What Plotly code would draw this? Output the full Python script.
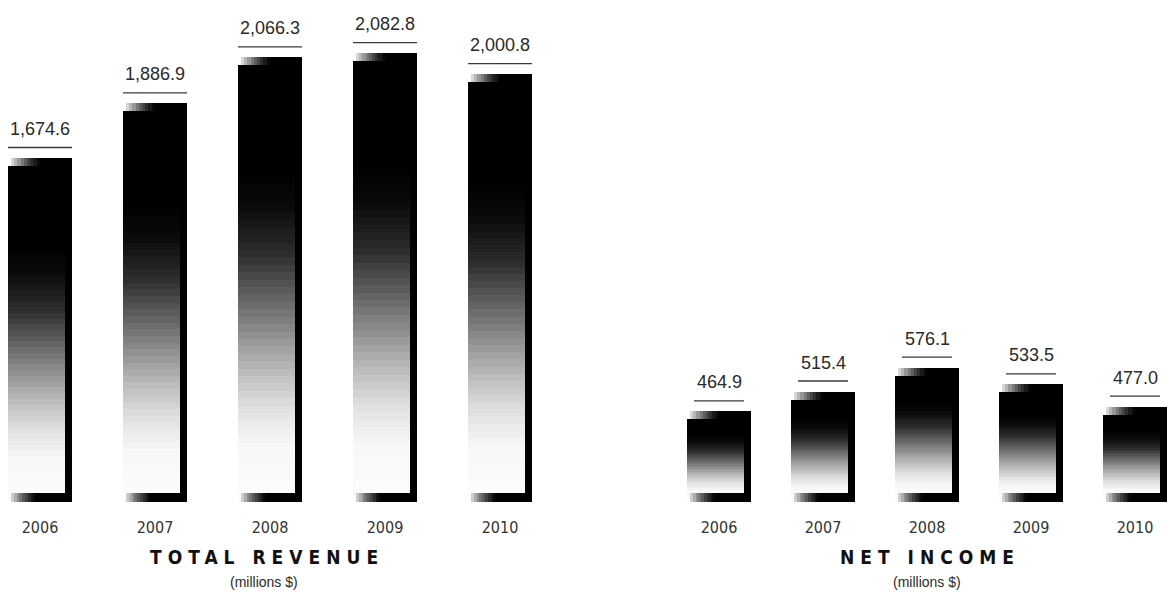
import plotly.graph_objects as go

# ---------------- data ----------------
years = ["2006", "2007", "2008", "2009", "2010"]
revenue = [1674.6, 1886.9, 2066.3, 2082.8, 2000.8]
net_income = [464.9, 515.4, 576.1, 533.5, 477.0]
titles = ["TOTAL REVENUE", "NET INCOME"]
subtitle = "(millions $)"

# ---------------- layout constants ----------------
W, H = 1167, 604
BOTTOM_PX = 502          # pixel row of the bar baseline
PLOT_H = BOTTOM_PX       # plot area spans from top of page to baseline

panels = [
    dict(vals=revenue, xa="x", ya="y", xdom=(0, 575), c0=40.0, step=115,
         vmin=336.0, ppu=0.257, title=titles[0], tcx=264, line_px=64),
    dict(vals=net_income, xa="x2", ya="y2", xdom=(600, 1167), c0=719, step=104,
         vmin=233.5, ppu=0.392, title=titles[1], tcx=927, line_px=50),
]

BAR_PX = 64
STRIP_PX = 7
BOTTOM_STRIP_PX = 9
CAP_PX = 8
INSET_PX = 3
N_SLICES = 60


def gray_at(f):
    pts = [(0.0, 253), (0.13, 248), (0.22, 222), (0.33, 170), (0.45, 105),
           (0.56, 45), (0.66, 12), (0.75, 0), (1.0, 0)]
    for (a, ga), (b, gb) in zip(pts[:-1], pts[1:]):
        if a <= f <= b:
            t = (f - a) / (b - a)
            g = ga + (gb - ga) * t
            return f"rgb({int(g)},{int(g)},{int(g)})"
    return "rgb(0,0,0)"


def hgray(t, light=205):
    g = int(light * (1 - t) ** 1.4)
    return f"rgb({g},{g},{g})"


fig = go.Figure()
shapes = []
annotations = []

for p in panels:
    vals = p["vals"]
    xa, ya = p["xa"], p["ya"]
    step, ppu, vmin = p["step"], p["ppu"], p["vmin"]
    u = 1.0 / step                 # category units per pixel
    d = 1.0 / ppu                  # data units per pixel
    bw = BAR_PX * u
    heights = [v - vmin for v in vals]

    # vertical gradient body (stacked slices of each bar)
    for k in range(N_SLICES):
        f0 = k / N_SLICES
        f1 = (k + 1) / N_SLICES
        ext = 0 if k == N_SLICES - 1 else 1.2 * d
        fig.add_trace(go.Bar(
            x=years, y=[h / N_SLICES + ext for h in heights],
            base=[vmin + f0 * h for h in heights],
            width=bw, offset=-bw / 2,
            marker=dict(color=gray_at((f0 + f1) / 2), line=dict(width=0)),
            xaxis=xa, yaxis=ya, hoverinfo="skip", showlegend=False))

    # right black strip
    fig.add_trace(go.Bar(
        x=years, y=heights, base=[vmin] * len(vals),
        width=STRIP_PX * u, offset=bw / 2 - STRIP_PX * u,
        marker=dict(color="black", line=dict(width=0)),
        xaxis=xa, yaxis=ya, hoverinfo="skip", showlegend=False))

    # bottom black strip
    fig.add_trace(go.Bar(
        x=years, y=[BOTTOM_STRIP_PX * d] * len(vals), base=[vmin] * len(vals),
        width=(BAR_PX - INSET_PX) * u, offset=-bw / 2 + INSET_PX * u,
        marker=dict(color="black", line=dict(width=0)),
        xaxis=xa, yaxis=ya, hoverinfo="skip", showlegend=False))

    # bottom strip left fade + top cap left fade
    nseg = 10
    seg_px = 2.8
    for s in range(nseg):
        t = s / (nseg - 1)
        off = -bw / 2 + (INSET_PX + s * seg_px) * u
        fig.add_trace(go.Bar(
            x=years, y=[BOTTOM_STRIP_PX * d] * len(vals), base=[vmin] * len(vals),
            width=(seg_px + 0.6) * u, offset=off,
            marker=dict(color=hgray(t), line=dict(width=0)),
            xaxis=xa, yaxis=ya, hoverinfo="skip", showlegend=False))
    cap_seg = 3.2
    for s in range(nseg):
        t = s / (nseg - 1)
        off = -bw / 2 + (INSET_PX + s * cap_seg) * u
        fig.add_trace(go.Bar(
            x=years, y=[CAP_PX * d] * len(vals), base=[v - CAP_PX * d for v in vals],
            width=(cap_seg + 0.6) * u, offset=off,
            marker=dict(color=hgray(t, 215), line=dict(width=0)),
            xaxis=xa, yaxis=ya, hoverinfo="skip", showlegend=False))
    # white notch at left of cap
    fig.add_trace(go.Bar(
        x=years, y=[CAP_PX * d] * len(vals), base=[v - CAP_PX * d for v in vals],
        width=INSET_PX * u, offset=-bw / 2,
        marker=dict(color="white", line=dict(width=0)),
        xaxis=xa, yaxis=ya, hoverinfo="skip", showlegend=False))

    # value labels and rules (x given as category index)
    for i, v in enumerate(vals):
        annotations.append(dict(
            x=i, y=v, xref=xa, yref=ya, text=f"{v:,.1f}",
            showarrow=False, yshift=29, yanchor="middle", xanchor="center",
            font=dict(family="Liberation Sans, Arial, sans-serif", size=18, color="#2a2a2a")))
        shapes.append(dict(
            type="line", xref=xa, yref=ya, xsizemode="pixel", ysizemode="pixel",
            xanchor=i, yanchor=v, x0=-p["line_px"] / 2, x1=p["line_px"] / 2,
            y0=10.5, y1=10.5, line=dict(color="#3a3a3a", width=1.3)))

    # titles
    annotations.append(dict(
        x=p["tcx"] / W, y=(H - 557) / H, xref="paper", yref="paper",
        text=f'<span style="letter-spacing:6px">{p["title"]}</span>',
        showarrow=False, xanchor="center", yanchor="middle", xshift=3,
        font=dict(family="Liberation Sans Narrow, DejaVu Sans Condensed, Arial", size=19, color="#111", weight="bold")))
    annotations.append(dict(
        x=p["tcx"] / W, y=(H - 582) / H, xref="paper", yref="paper",
        text=subtitle, showarrow=False, xanchor="center", yanchor="middle",
        font=dict(family="Liberation Sans, Arial", size=14, color="#2a2a2a")))

ydom = ((H - BOTTOM_PX) / H, 1.0)


def xaxis_cfg(p):
    x0 = -(p["c0"] - p["xdom"][0]) / p["step"]
    x1 = x0 + (p["xdom"][1] - p["xdom"][0]) / p["step"]
    return dict(domain=[p["xdom"][0] / W, p["xdom"][1] / W], range=[x0, x1],
                type="category", showgrid=False, zeroline=False, showline=False,
                ticks="", ticklabelstandoff=14,
                tickfont=dict(family="Liberation Sans Narrow, DejaVu Sans Condensed, Arial", size=16, color="#333"),
                fixedrange=True)


def yaxis_cfg(p, anchor):
    return dict(domain=list(ydom), range=[p["vmin"], p["vmin"] + PLOT_H / p["ppu"]],
                visible=False, anchor=anchor, fixedrange=True)


fig.update_layout(
    width=W, height=H, margin=dict(l=0, r=0, t=0, b=0),
    paper_bgcolor="white", plot_bgcolor="white",
    barmode="overlay", bargap=0, showlegend=False,
    xaxis=dict(**xaxis_cfg(panels[0]), anchor="y"),
    yaxis=yaxis_cfg(panels[0], "x"),
    xaxis2=dict(**xaxis_cfg(panels[1]), anchor="y2"),
    yaxis2=yaxis_cfg(panels[1], "x2"),
    shapes=shapes, annotations=annotations,
)

fig.write_html("out.html")
